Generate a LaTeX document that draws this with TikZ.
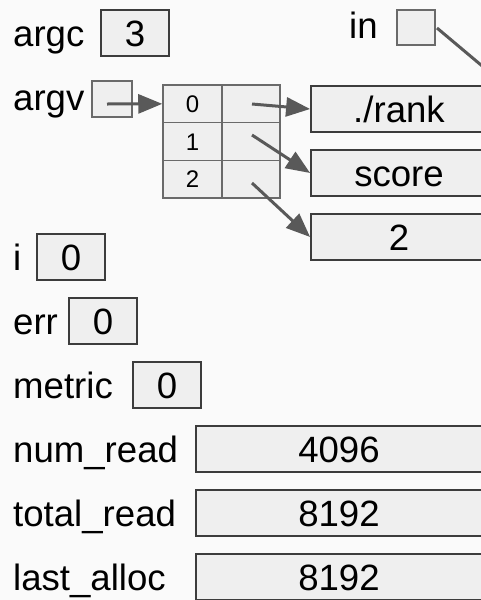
\documentclass[tikz,border=0pt]{standalone}
\usepackage{fontspec}
\setmainfont{Liberation Sans}
\usetikzlibrary{arrows.meta}
\definecolor{bgcol}{HTML}{FAFAFA}
\definecolor{boxfill}{HTML}{EFEFEF}
\definecolor{boxline}{HTML}{3C3C3C}
\definecolor{ptrline}{HTML}{6A6A6A}
\definecolor{arrowcol}{HTML}{595959}
\tikzset{
  varname/.style={anchor=base west, inner sep=0pt, font=\fontsize{36.6}{40}\selectfont},
  valbox/.style={draw=boxline, fill=boxfill, line width=1.8pt, inner sep=0pt,
    text height=26.2pt, text depth=0pt, font=\fontsize{36.6}{40}\selectfont,
    minimum height=46pt},
  ptrbox/.style={draw=ptrline, fill=boxfill, line width=1.8pt, inner sep=0pt},
  cell/.style={draw=ptrline, fill=boxfill, line width=1.5pt, inner sep=0pt,
    minimum height=37.7pt, text height=17pt, text depth=0pt,
    font=\fontsize{24}{26}\selectfont},
  ptrarrow/.style={draw=arrowcol, line width=3pt,
    -{Triangle[length=24pt, width=19pt]}},
}
\begin{document}
\begin{tikzpicture}[x=1pt, y=-1pt]
  \fill[bgcol] (0,0) rectangle (481,600);
  \useasboundingbox (0,0) rectangle (481,600);
  \clip (0,0) rectangle (481,600);

  % scalar variables
  \node[varname] (argcL) at (13,46) {argc};
  \node[valbox, minimum width=68pt] (argc) at (135,33) {3};

  \node[varname] (inL) at (349,38) {in};
  \node[ptrbox, minimum width=38pt, minimum height=35pt] (in) at (416,27.5) {};

  \node[varname] (argvL) at (13,110) {argv};
  \node[ptrbox, minimum width=40pt, minimum height=36pt] (argv) at (112,99) {};

  % argv array: index column and pointer column
  \node[cell, minimum width=59pt] (c0i) at (192.5,103.85) {0};
  \node[cell, minimum width=58pt] (c0p) at (251,103.85) {};
  \node[cell, minimum width=59pt] (c1i) at (192.5,141.5) {1};
  \node[cell, minimum width=58pt] (c1p) at (251,141.5) {};
  \node[cell, minimum width=59pt] (c2i) at (192.5,179.15) {2};
  \node[cell, minimum width=58pt] (c2p) at (251,179.15) {};

  % argument strings
  \node[valbox, minimum width=176pt] (rank) at (399,109) {./rank};
  \node[valbox, minimum width=176pt] (score) at (399,173) {score};
  \node[valbox, minimum width=176pt] (two) at (399,237) {2};

  \node[varname] (iL) at (13,270) {i};
  \node[valbox, minimum width=68pt] (i) at (71,257) {0};

  \node[varname] (errL) at (13,334) {err};
  \node[valbox, minimum width=68pt] (err) at (103,321) {0};

  \node[varname] (metricL) at (13,398) {metric};
  \node[valbox, minimum width=68pt] (metric) at (167,385) {0};

  \node[varname] (numL) at (13,462) {num\_read};
  \node[valbox, minimum width=286pt] (num) at (339,449) {4096};

  \node[varname] (totL) at (13,526) {total\_read};
  \node[valbox, minimum width=286pt] (tot) at (339,513) {8192};

  \node[varname] (lastL) at (13,590) {last\_alloc};
  \node[valbox, minimum width=286pt] (last) at (339,577) {8192};

  % pointers
  \coordinate (argvp) at (107,104);
  \coordinate (p0) at (252,104);
  \coordinate (p1) at (252,135);
  \coordinate (p2) at (252,183);
  \coordinate (inp) at (437,28);
  \coordinate (inend) at (503,83.5);

  \draw[ptrarrow] (argvp) -- (c0i.west);
  \draw[ptrarrow] (p0) -- (rank.west);
  \draw[ptrarrow] (p1) -- (score.west);
  \draw[ptrarrow] (p2) -- (two.west);
  \draw[draw=arrowcol, line width=3pt] (inp) -- (inend);
\end{tikzpicture}
\end{document}
